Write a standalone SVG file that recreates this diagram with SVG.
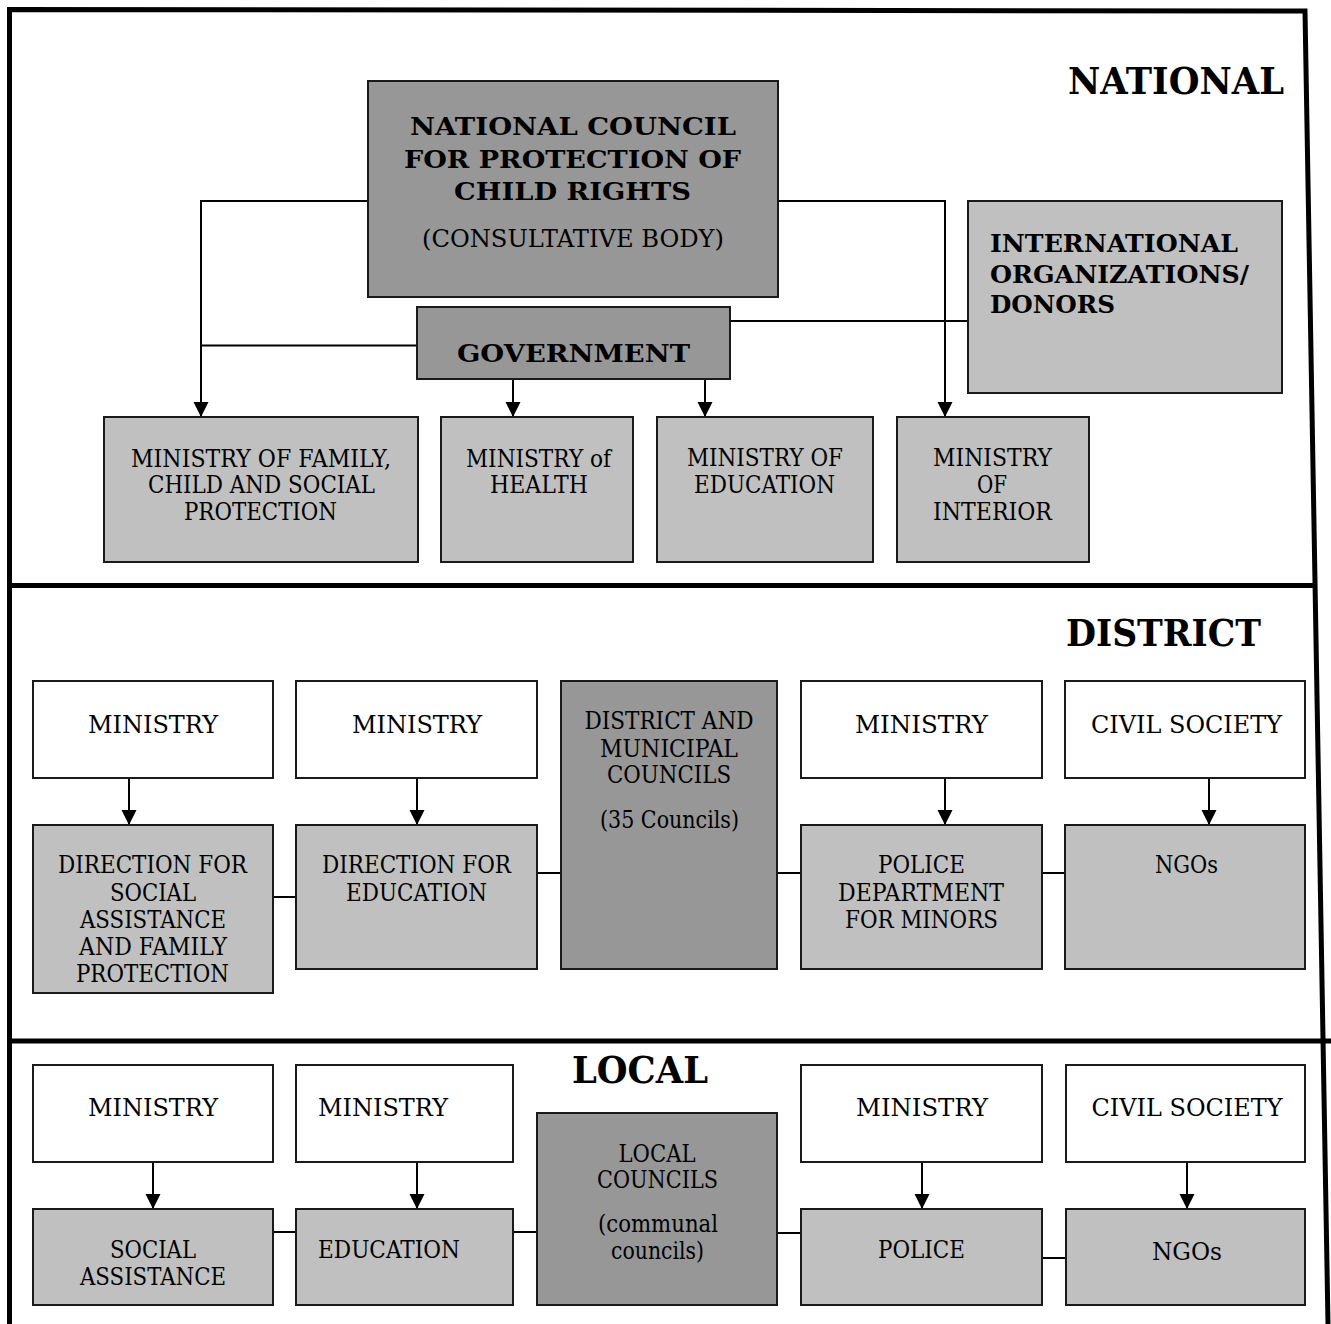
<svg xmlns="http://www.w3.org/2000/svg" width="1331" height="1324" viewBox="0 0 1331 1324">
<style>
.frame{fill:none;stroke:#000;stroke-width:5}
.bx{stroke:#1a1a1a;stroke-width:2}
.dk{fill:#979797}
.lt{fill:#c0c0c0}
.wh{fill:#fff}
.ln{fill:none;stroke:#000;stroke-width:2}
text{font-family:"DejaVu Serif","Liberation Serif",serif;font-size:24px;fill:#000;text-anchor:middle}
.b{font-weight:bold}
.h{font-weight:bold;font-size:37px;text-anchor:start}
.s{text-anchor:start}
</style>
<defs>
<marker id="ar" markerUnits="userSpaceOnUse" markerWidth="16" markerHeight="16" viewBox="0 0 16 16" refX="15" refY="8" orient="auto">
<path d="M0,0.5 L15,8 L0,15.5 z" fill="#000"/>
</marker>
</defs>
<rect x="0" y="0" width="1331" height="1324" fill="#fff"/>
<g id="frame">
<path class="frame" d="M9.5,1324 V9.5 L1305,11 L1328,1324"/>
<line class="frame" x1="9" y1="585.5" x2="1314" y2="585.5"/>
<line class="frame" x1="9" y1="1041" x2="1331" y2="1041"/>
</g>
<g id="labels">
<text class="h" x="1068" y="94" textLength="216" lengthAdjust="spacingAndGlyphs">NATIONAL</text>
<text class="h" x="1066" y="646" textLength="195" lengthAdjust="spacingAndGlyphs">DISTRICT</text>
<text class="h" x="572" y="1083" textLength="136" lengthAdjust="spacingAndGlyphs">LOCAL</text>
</g>
<g id="connectors">
<polyline class="ln" points="368,201 201,201 201,417" marker-end="url(#ar)"/>
<line class="ln" x1="417" y1="345.5" x2="201" y2="345.5"/>
<polyline class="ln" points="778,201 945,201 945,417" marker-end="url(#ar)"/>
<line class="ln" x1="730" y1="321" x2="968" y2="321"/>
<line class="ln" x1="513" y1="368" x2="513" y2="417" marker-end="url(#ar)"/>
<line class="ln" x1="705" y1="368" x2="705" y2="417" marker-end="url(#ar)"/>
<line class="ln" x1="129" y1="778" x2="129" y2="825" marker-end="url(#ar)"/>
<line class="ln" x1="417" y1="778" x2="417" y2="825" marker-end="url(#ar)"/>
<line class="ln" x1="945" y1="778" x2="945" y2="825" marker-end="url(#ar)"/>
<line class="ln" x1="1209" y1="778" x2="1209" y2="825" marker-end="url(#ar)"/>
<line class="ln" x1="273" y1="897" x2="296" y2="897"/>
<line class="ln" x1="537" y1="873" x2="561" y2="873"/>
<line class="ln" x1="777" y1="873" x2="801" y2="873"/>
<line class="ln" x1="1042" y1="873" x2="1065" y2="873"/>
<line class="ln" x1="153" y1="1162" x2="153" y2="1209" marker-end="url(#ar)"/>
<line class="ln" x1="417" y1="1162" x2="417" y2="1209" marker-end="url(#ar)"/>
<line class="ln" x1="922" y1="1162" x2="922" y2="1209" marker-end="url(#ar)"/>
<line class="ln" x1="1187" y1="1162" x2="1187" y2="1209" marker-end="url(#ar)"/>
<line class="ln" x1="273" y1="1232" x2="296" y2="1232"/>
<line class="ln" x1="513" y1="1232" x2="537" y2="1232"/>
<line class="ln" x1="777" y1="1233" x2="801" y2="1233"/>
<line class="ln" x1="1042" y1="1258" x2="1066" y2="1258"/>
</g>
<g id="council">
<rect class="bx dk" x="368" y="81" width="410" height="216"/>
<text class="b" font-size="28" x="573" y="135" textLength="326" lengthAdjust="spacingAndGlyphs">NATIONAL COUNCIL</text>
<text class="b" font-size="28" x="572.5" y="168" textLength="337" lengthAdjust="spacingAndGlyphs">FOR PROTECTION OF</text>
<text class="b" font-size="28" x="572.5" y="200" textLength="237" lengthAdjust="spacingAndGlyphs">CHILD RIGHTS</text>
<text x="573" y="247" textLength="302" lengthAdjust="spacingAndGlyphs">(CONSULTATIVE BODY)</text>
</g>
<g id="government">
<rect class="bx dk" x="417" y="307" width="313" height="72"/>
<text class="b" font-size="29" x="573.5" y="362" textLength="233" lengthAdjust="spacingAndGlyphs">GOVERNMENT</text>
</g>
<g id="intl">
<rect class="bx lt" x="968" y="201" width="314" height="192"/>
<text class="b s" font-size="25" x="990" y="252" textLength="248" lengthAdjust="spacingAndGlyphs">INTERNATIONAL</text>
<text class="b s" font-size="25" x="990" y="283" textLength="259" lengthAdjust="spacingAndGlyphs">ORGANIZATIONS/</text>
<text class="b s" font-size="25" x="990" y="313" textLength="125" lengthAdjust="spacingAndGlyphs">DONORS</text>
</g>
<g id="min-family">
<rect class="bx lt" x="104" y="417" width="314" height="145"/>
<text x="261" y="467" textLength="260" lengthAdjust="spacingAndGlyphs">MINISTRY OF FAMILY,</text>
<text x="261.5" y="493" textLength="227" lengthAdjust="spacingAndGlyphs">CHILD AND SOCIAL</text>
<text x="260.5" y="520" textLength="153" lengthAdjust="spacingAndGlyphs">PROTECTION</text>
</g>
<g id="min-health">
<rect class="bx lt" x="441" y="417" width="192" height="145"/>
<text x="538.5" y="467" textLength="145" lengthAdjust="spacingAndGlyphs">MINISTRY of</text>
<text x="539" y="493" textLength="98" lengthAdjust="spacingAndGlyphs">HEALTH</text>
</g>
<g id="min-education">
<rect class="bx lt" x="657" y="417" width="216" height="145"/>
<text x="765" y="466" textLength="156" lengthAdjust="spacingAndGlyphs">MINISTRY OF</text>
<text x="764.5" y="493" textLength="141" lengthAdjust="spacingAndGlyphs">EDUCATION</text>
</g>
<g id="min-interior">
<rect class="bx lt" x="897" y="417" width="192" height="145"/>
<text x="992.5" y="466" textLength="119" lengthAdjust="spacingAndGlyphs">MINISTRY</text>
<text x="992" y="493" textLength="30" lengthAdjust="spacingAndGlyphs">OF</text>
<text x="992.5" y="520" textLength="119" lengthAdjust="spacingAndGlyphs">INTERIOR</text>
</g>
<g id="d-ministry1">
<rect class="bx wh" x="33" y="681" width="240" height="97"/>
<text font-size="25" x="153" y="733" textLength="130" lengthAdjust="spacingAndGlyphs">MINISTRY</text>
</g>
<g id="d-ministry2">
<rect class="bx wh" x="296" y="681" width="241" height="97"/>
<text font-size="25" x="417" y="733" textLength="130" lengthAdjust="spacingAndGlyphs">MINISTRY</text>
</g>
<g id="d-councils">
<rect class="bx dk" x="561" y="681" width="216" height="288"/>
<text font-size="25" x="669" y="729" textLength="169" lengthAdjust="spacingAndGlyphs">DISTRICT AND</text>
<text font-size="25" x="669" y="757" textLength="138" lengthAdjust="spacingAndGlyphs">MUNICIPAL</text>
<text font-size="25" x="669" y="783" textLength="124" lengthAdjust="spacingAndGlyphs">COUNCILS</text>
<text font-size="25" x="669.5" y="828" textLength="139" lengthAdjust="spacingAndGlyphs">(35 Councils)</text>
</g>
<g id="d-ministry3">
<rect class="bx wh" x="801" y="681" width="241" height="97"/>
<text font-size="25" x="921.5" y="733" textLength="133" lengthAdjust="spacingAndGlyphs">MINISTRY</text>
</g>
<g id="d-civil">
<rect class="bx wh" x="1065" y="681" width="240" height="97"/>
<text font-size="25" x="1186.5" y="733" textLength="191" lengthAdjust="spacingAndGlyphs">CIVIL SOCIETY</text>
</g>
<g id="d-social">
<rect class="bx lt" x="33" y="825" width="240" height="168"/>
<text font-size="25" x="152.5" y="873" textLength="189" lengthAdjust="spacingAndGlyphs">DIRECTION FOR</text>
<text font-size="25" x="153" y="901" textLength="86" lengthAdjust="spacingAndGlyphs">SOCIAL</text>
<text font-size="25" x="153" y="928" textLength="146" lengthAdjust="spacingAndGlyphs">ASSISTANCE</text>
<text font-size="25" x="153" y="955" textLength="148" lengthAdjust="spacingAndGlyphs">AND FAMILY</text>
<text font-size="25" x="152.5" y="982" textLength="153" lengthAdjust="spacingAndGlyphs">PROTECTION</text>
</g>
<g id="d-education">
<rect class="bx lt" x="296" y="825" width="241" height="144"/>
<text font-size="25" x="416.5" y="873" textLength="189" lengthAdjust="spacingAndGlyphs">DIRECTION FOR</text>
<text font-size="25" x="416.5" y="901" textLength="141" lengthAdjust="spacingAndGlyphs">EDUCATION</text>
</g>
<g id="d-police">
<rect class="bx lt" x="801" y="825" width="241" height="144"/>
<text font-size="25" x="921.5" y="873" textLength="87" lengthAdjust="spacingAndGlyphs">POLICE</text>
<text font-size="25" x="921" y="901" textLength="166" lengthAdjust="spacingAndGlyphs">DEPARTMENT</text>
<text font-size="25" x="921.5" y="928" textLength="153" lengthAdjust="spacingAndGlyphs">FOR MINORS</text>
</g>
<g id="d-ngos">
<rect class="bx lt" x="1065" y="825" width="240" height="144"/>
<text font-size="25" x="1186.5" y="873" textLength="63" lengthAdjust="spacingAndGlyphs">NGOs</text>
</g>
<g id="l-ministry1">
<rect class="bx wh" x="33" y="1065" width="240" height="97"/>
<text font-size="25" x="153" y="1116" textLength="130" lengthAdjust="spacingAndGlyphs">MINISTRY</text>
</g>
<g id="l-ministry2">
<rect class="bx wh" x="296" y="1065" width="217" height="97"/>
<text font-size="25" x="383" y="1116" textLength="130" lengthAdjust="spacingAndGlyphs">MINISTRY</text>
</g>
<g id="l-councils">
<rect class="bx dk" x="537" y="1113" width="240" height="192"/>
<text font-size="25" x="657" y="1162" textLength="77" lengthAdjust="spacingAndGlyphs">LOCAL</text>
<text font-size="25" x="657.5" y="1188" textLength="121" lengthAdjust="spacingAndGlyphs">COUNCILS</text>
<text font-size="25" x="658" y="1232" textLength="120" lengthAdjust="spacingAndGlyphs">(communal</text>
<text font-size="25" x="657.5" y="1259" textLength="93" lengthAdjust="spacingAndGlyphs">councils)</text>
</g>
<g id="l-ministry3">
<rect class="bx wh" x="801" y="1065" width="241" height="97"/>
<text font-size="25" x="922" y="1116" textLength="132" lengthAdjust="spacingAndGlyphs">MINISTRY</text>
</g>
<g id="l-civil">
<rect class="bx wh" x="1066" y="1065" width="239" height="97"/>
<text font-size="25" x="1187" y="1116" textLength="191" lengthAdjust="spacingAndGlyphs">CIVIL SOCIETY</text>
</g>
<g id="l-social">
<rect class="bx lt" x="33" y="1209" width="240" height="96"/>
<text font-size="25" x="153" y="1258" textLength="86" lengthAdjust="spacingAndGlyphs">SOCIAL</text>
<text font-size="25" x="153" y="1285" textLength="146" lengthAdjust="spacingAndGlyphs">ASSISTANCE</text>
</g>
<g id="l-education">
<rect class="bx lt" x="296" y="1209" width="217" height="96"/>
<text font-size="25" x="389" y="1258" textLength="142" lengthAdjust="spacingAndGlyphs">EDUCATION</text>
</g>
<g id="l-police">
<rect class="bx lt" x="801" y="1209" width="241" height="96"/>
<text font-size="25" x="921.5" y="1258" textLength="87" lengthAdjust="spacingAndGlyphs">POLICE</text>
</g>
<g id="l-ngos">
<rect class="bx lt" x="1066" y="1209" width="239" height="96"/>
<text font-size="28" x="1187" y="1260" textLength="70" lengthAdjust="spacingAndGlyphs">NGOs</text>
</g>
</svg>
